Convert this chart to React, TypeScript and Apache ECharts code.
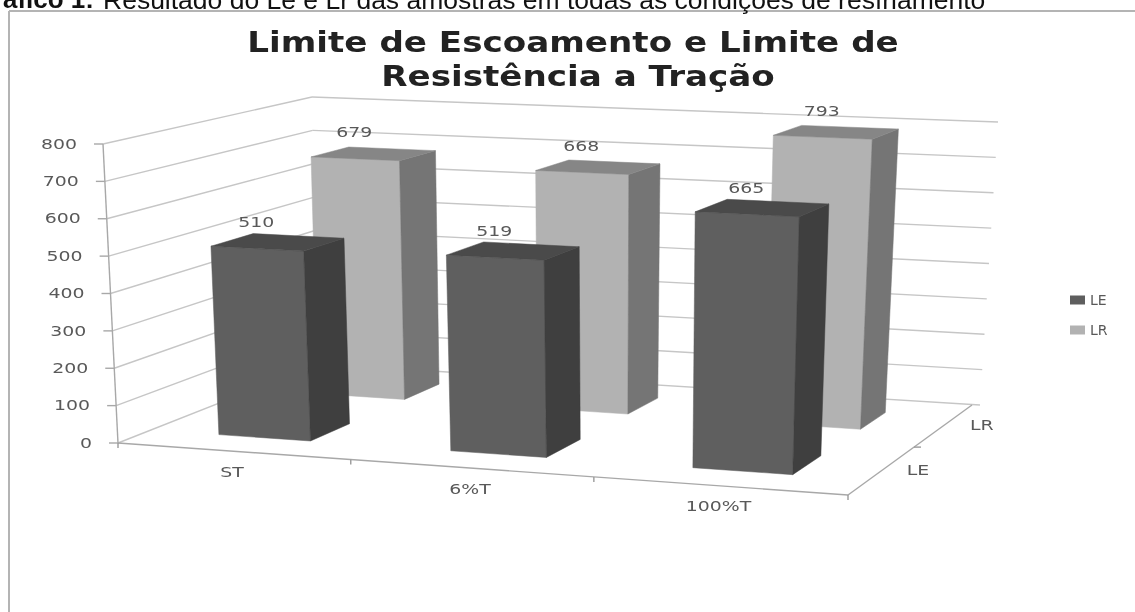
import React, { useEffect, useRef } from "react";
import * as echarts from "echarts";

const categories = ["ST", "6%T", "100%T"];
const seriesNames = ["LE", "LR"];
const leValues = [510, 519, 665];
const lrValues = [679, 668, 793];
const yTicks = [0, 100, 200, 300, 400, 500, 600, 700, 800];
const titleLines = ["Limite de Escoamento e Limite de", "Resistência a Tração"];
const captionBold = "Gráfico 1:";
const captionText = "Resultado do Le e Lr das amostras em todas as condições de resfriamento";

type Pt = [number, number];
const GL = 100, GT = 100, GW = 600, GH = 300;
const GRAY = "#595959";
const FONT = "DejaVu Sans";

// perspective frame of the 3D box
const floorQuad: Pt[] = [[118, 443], [848, 495], [972, 405], [318, 364]];
const topQuad: Pt[] = [[103, 144], [859, 177], [990, 122], [312, 97]];

function homography(q: Pt[]) {
  const [[x0, y0], [x1, y1], [x2, y2], [x3, y3]] = q;
  const dx1 = x1 - x2, dx2 = x3 - x2, sx = x0 - x1 + x2 - x3;
  const dy1 = y1 - y2, dy2 = y3 - y2, sy = y0 - y1 + y2 - y3;
  const den = dx1 * dy2 - dx2 * dy1;
  const g = (sx * dy2 - dx2 * sy) / den;
  const h = (dx1 * sy - sx * dy1) / den;
  const a = x1 - x0 + g * x1, b = x3 - x0 + h * x3;
  const d = y1 - y0 + g * y1, e = y3 - y0 + h * y3;
  return (u: number, v: number): Pt => {
    const q2 = g * u + h * v + 1;
    return [(a * u + b * v + x0) / q2, (d * u + e * v + y0) / q2];
  };
}
const floorH = homography(floorQuad);
const topH = homography(topQuad);
function P(u: number, v: number, w: number): Pt {
  const f = floorH(u, v), t = topH(u, v);
  return [f[0] + (t[0] - f[0]) * w, f[1] + (t[1] - f[1]) * w];
}

const line = (a: Pt, b: Pt, stroke: string, lineWidth = 1.4) => ({
  type: "line",
  shape: { x1: a[0], y1: a[1], x2: b[0], y2: b[1] },
  style: { stroke, lineWidth },
  silent: true,
});
const label = (text: string, x: number, y: number, align = "center") => ({
  type: "text",
  x,
  y,
  scaleX: 1.35,
  style: { text, align, verticalAlign: "middle", fill: GRAY, font: `14px "${FONT}"` },
  silent: true,
});
const poly = (points: Pt[], fill: string) => ({
  type: "polygon",
  shape: { points },
  style: { fill, stroke: fill, lineWidth: 0.5 },
  silent: true,
});
const wOf = (api: any, value: number) => (GT + GH - api.coord([0, value])[1]) / GH;

function barRenderer(seriesIndex: number, front: string, side: string, top: string) {
  return (_: any, api: any) => {
    const cat = api.value(0), val = api.value(1);
    const cu = (api.coord([cat, 0])[0] - GL) / GW;
    const half = api.size([1, 0])[0] / GW / 2;
    const u0 = cu - half * 0.4, u1 = cu + half * 0.4;
    const v0 = (seriesIndex + 0.3) / seriesNames.length, v1 = (seriesIndex + 0.7) / seriesNames.length;
    const w = wOf(api, val);
    const ft = [P(u0, v0, w), P(u1, v0, w)];
    return {
      type: "group",
      children: [
        poly([P(u0, v0, 0), P(u1, v0, 0), ft[1], ft[0]], front),
        poly([P(u1, v0, 0), P(u1, v1, 0), P(u1, v1, w), ft[1]], side),
        poly([ft[0], ft[1], P(u1, v1, w), P(u0, v1, w)], top),
        label(String(val), (ft[0][0] + ft[1][0]) / 2 - 1, (ft[0][1] + ft[1][1]) / 2 - 26),
      ],
    };
  };
}

function gridRenderer(_: any, api: any) {
  const t = api.value(0);
  const w = wOf(api, t);
  const a = P(0, 0, w), b = P(0, 1, w), c = P(1, 1, w);
  return {
    type: "group",
    children: [
      line(a, b, "#c6c6c6"),
      line(b, [c[0] + 8, c[1]], "#c6c6c6"),
      line([a[0] - 9, a[1]], a, "#a8a8a8"),
      label(String(t), a[0] - 26, a[1], "right"),
    ],
  };
}

function catRenderer(_: any, api: any) {
  const i = api.value(0);
  const cu = (api.coord([i, 0])[0] - GL) / GW;
  const half = api.size([1, 0])[0] / GW / 2;
  const e = P(cu + half, 0, 0);
  const c = P(cu, 0, 0);
  return {
    type: "group",
    children: [line(e, [e[0], e[1] + 5], "#9a9a9a"), label(categories[i], c[0] - 1, c[1] + 21)],
  };
}

function axesRenderer() {
  const m = P(1, 0.5, 0);
  const a = P(1, 0.25, 0), b = P(1, 0.75, 0);
  return {
    type: "group",
    children: [
      line(P(0, 0, 0), P(0, 0, 1), "#a8a8a8"),
      line(P(0, 0, 0), P(1, 0, 0), "#a8a8a8"),
      line(P(1, 0, 0), P(1, 1, 0), "#a8a8a8"),
      line(m, [m[0] + 7, m[1]], "#9a9a9a"),
      line(P(0, 0, 0), [P(0, 0, 0)[0], P(0, 0, 0)[1] + 5], "#9a9a9a"),
      label(seriesNames[0], a[0] + 36, a[1]),
      label(seriesNames[1], b[0] + 38, b[1]),
    ],
  };
}

export default function App() {
  const ref = useRef<HTMLDivElement>(null);
  useEffect(() => {
    const chart = echarts.init(ref.current!, undefined, { renderer: "svg" });
    chart.setOption({
      animation: false,
      backgroundColor: "#ffffff",
      grid: { left: GL, top: GT, width: GW, height: GH, show: false },
      xAxis: { type: "category", data: categories, show: false },
      yAxis: { type: "value", min: 0, max: 800, interval: 100, show: false },
      legend: {
        data: seriesNames,
        orient: "vertical",
        left: 1065,
        top: 288,
        itemWidth: 15,
        itemHeight: 9,
        itemGap: 16,
        icon: "rect",
        textStyle: { color: GRAY, fontSize: 14, fontFamily: FONT },
      },
      graphic: [
        { type: "line", shape: { x1: 9, y1: 11, x2: 1135, y2: 11 }, style: { stroke: "#b4b4b4", lineWidth: 2 } },
        { type: "line", shape: { x1: 9, y1: 11, x2: 9, y2: 612 }, style: { stroke: "#b4b4b4", lineWidth: 2 } },
        { type: "text", x: 94, y: -14, style: { text: captionBold, align: "right", fill: "#111", font: 'bold 26px "Liberation Sans"' } },
        { type: "text", x: 103, y: -14, style: { text: captionText, fill: "#111", font: '26.5px "Liberation Sans"' } },
        { type: "text", x: 573, y: 42, scaleX: 1.22, style: { text: titleLines[0], align: "center", verticalAlign: "middle", fill: "#222", font: 'bold 28px "DejaVu Sans"' } },
        { type: "text", x: 578, y: 76, scaleX: 1.22, style: { text: titleLines[1], align: "center", verticalAlign: "middle", fill: "#222", font: 'bold 28px "DejaVu Sans"' } },
      ],
      series: [
        { type: "custom", name: "grid", data: yTicks.map((t) => [t]), encode: { y: 0 }, renderItem: gridRenderer, z: 1 },
        { type: "custom", name: "axes", data: [[0]], renderItem: axesRenderer, z: 2 },
        { type: "custom", name: "cats", data: categories.map((_, i) => [i]), encode: { x: 0 }, renderItem: catRenderer, z: 2 },
        {
          type: "custom", name: "LR", z: 3, itemStyle: { color: "#b2b2b2" },
          data: lrValues.map((v, i) => [i, v]), encode: { x: 0, y: 1 },
          renderItem: barRenderer(1, "#b2b2b2", "#757575", "#868686"),
        },
        {
          type: "custom", name: "LE", z: 4, itemStyle: { color: "#5e5e5e" },
          data: leValues.map((v, i) => [i, v]), encode: { x: 0, y: 1 },
          renderItem: barRenderer(0, "#5f5f5f", "#3f3f3f", "#4a4a4a"),
        },
      ],
    });
    return () => chart.dispose();
  }, []);
  return (
    <div
      ref={ref}
      style={{ position: "absolute", left: 0, top: 0, width: 1135, height: 612, overflow: "hidden", filter: "blur(0.5px)" }}
    />
  );
}
